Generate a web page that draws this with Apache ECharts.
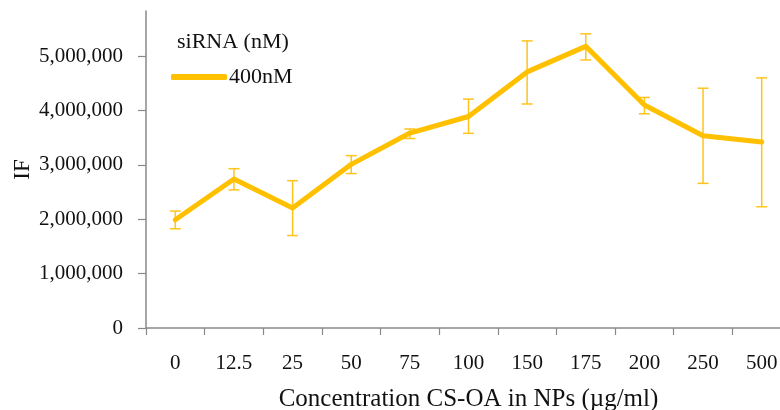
<!DOCTYPE html>
<html>
<head>
<meta charset="utf-8">
<script src="https://cdn.jsdelivr.net/npm/echarts@6/dist/echarts.min.js"></script>
<style>
  html, body { margin: 0; padding: 0; background: #fff; }
  #chart { width: 780px; height: 410px; }
</style>
</head>
<body>
<div id="chart"></div>
<script>
// concentrations of CS-OA in NPs (µg/ml)
const categories = ['0', '12.5', '25', '50', '75', '100', '150', '175', '200', '250', '500'];
// mean IF, siRNA 400nM
const ifValues = [1990000, 2740000, 2205000, 3010000, 3585000, 3890000, 4710000, 5180000, 4100000, 3535000, 3420000];
// error bar ends (low / high)
const errLow = [1825000, 2540000, 1700000, 2840000, 3485000, 3580000, 4120000, 4930000, 3940000, 2660000, 2230000];
const errHigh = [2150000, 2930000, 2710000, 3170000, 3660000, 4210000, 5280000, 5410000, 4240000, 4410000, 4600000];
const yTicks = [0, 1000000, 2000000, 3000000, 4000000, 5000000];

const SERIF = '"Liberation Serif", "DejaVu Serif", serif';
const AXIS_COLOR = '#898989';
const GOLD = '#ffc000';

const chart = echarts.init(document.getElementById('chart'));

const errData = categories.map((c, i) => [i, errLow[i], errHigh[i]]);

chart.setOption({
  animation: false,
  title: {
    text: 'siRNA (nM)',
    left: 177,
    top: 31,
    padding: 0,
    textStyle: { fontFamily: SERIF, fontSize: 22, fontWeight: 'normal', color: '#111' },
  },
  legend: {
    data: ['400nM'],
    left: 171,
    top: 66,
    padding: 0,
    icon: 'roundRect',
    itemWidth: 56,
    itemHeight: 6,
    textStyle: { fontFamily: SERIF, fontSize: 22, color: '#111', padding: [0, 0, 0, -3] },
  },
  grid: {
    left: 146,
    top: 11,
    width: 645,
    height: 317,
    containLabel: false,
    outerBoundsMode: 'none',
  },
  xAxis: {
    type: 'category',
    data: categories,
    boundaryGap: true,
    name: 'Concentration CS-OA in NPs (\u00b5g/ml)',
    nameLocation: 'middle',
    nameGap: 59,
    nameMoveOverlap: false,
    nameTextStyle: { fontFamily: SERIF, fontSize: 25, color: '#111' },
    axisLine: { lineStyle: { color: AXIS_COLOR, width: 1.5 } },
    axisTick: { show: true, length: 7, alignWithLabel: false, lineStyle: { color: AXIS_COLOR, width: 1.2 } },
    axisLabel: { fontFamily: SERIF, fontSize: 21, color: '#111', margin: 25 },
    splitLine: { show: false },
  },
  yAxis: {
    type: 'value',
    min: 0,
    max: 5830000,
    name: 'IF',
    nameLocation: 'middle',
    nameRotate: 90,
    nameGap: 112,
    nameMoveOverlap: false,
    nameTextStyle: { fontFamily: SERIF, fontSize: 23, color: '#111' },
    axisLine: { show: true, lineStyle: { color: AXIS_COLOR, width: 1.5 } },
    axisTick: { show: true, length: 8, customValues: yTicks, lineStyle: { color: AXIS_COLOR, width: 1.2 } },
    axisLabel: {
      fontFamily: SERIF,
      fontSize: 21,
      color: '#111',
      margin: 23,
      customValues: yTicks,
      formatter: (v) => v.toLocaleString('en-US'),
    },
    splitLine: { show: false },
  },
  series: [
    {
      name: 'err',
      type: 'custom',
      data: errData,
      z: 3,
      renderItem: (params, api) => {
        const x = api.value(0);
        const lo = api.coord([x, api.value(1)]);
        const hi = api.coord([x, api.value(2)]);
        const half = 5.5;
        const style = { stroke: '#ffc41a', lineWidth: 1.5 };
        return {
          type: 'group',
          children: [
            { type: 'line', shape: { x1: lo[0], y1: lo[1], x2: hi[0], y2: hi[1] }, style },
            { type: 'line', shape: { x1: hi[0] - half, y1: hi[1], x2: hi[0] + half, y2: hi[1] }, style },
            { type: 'line', shape: { x1: lo[0] - half, y1: lo[1], x2: lo[0] + half, y2: lo[1] }, style },
          ],
        };
      },
    },
    {
      name: '400nM',
      type: 'line',
      data: ifValues,
      symbol: 'none',
      z: 4,
      itemStyle: { color: GOLD },
      lineStyle: { color: GOLD, width: 5, cap: 'round', join: 'round' },
    },
  ],
});
</script>
</body>
</html>
